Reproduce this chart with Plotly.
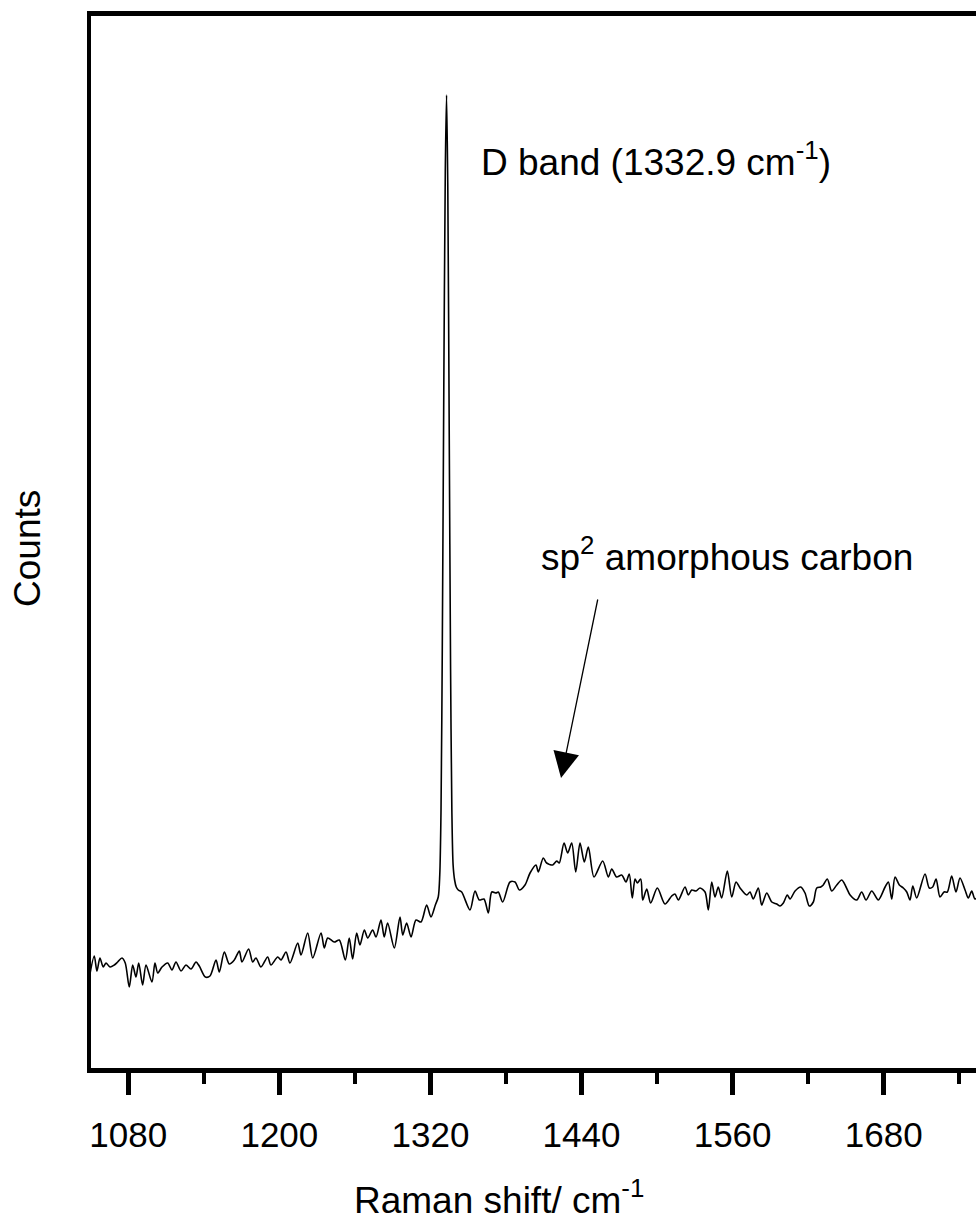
import plotly.graph_objects as go

raman_shift = [
    1049.0, 1053.0, 1055.1, 1057.5, 1060.1, 1062.3, 1065.5, 1068.9, 1071.6, 1075.0,
    1077.6, 1080.8, 1083.5, 1086.1, 1088.3, 1091.4, 1094.1, 1098.8, 1101.2, 1103.4,
    1106.8, 1111.3, 1114.7, 1117.9, 1121.9, 1125.8, 1129.8, 1133.8, 1136.4, 1141.2,
    1144.9, 1149.7, 1152.3, 1156.3, 1160.2, 1164.2, 1168.2, 1170.3, 1175.6, 1178.8,
    1181.4, 1185.4, 1190.7, 1193.3, 1198.7, 1201.3, 1205.3, 1208.4, 1214.6, 1217.2,
    1222.5, 1226.5, 1233.1, 1235.7, 1238.4, 1243.6, 1247.6, 1252.4, 1255.5, 1258.2,
    1261.4, 1264.0, 1267.5, 1270.2, 1274.1, 1276.8, 1280.7, 1283.3, 1286.0, 1291.3,
    1295.8, 1298.0, 1301.1, 1304.6, 1308.5, 1312.5, 1317.0, 1320.4, 1323.9, 1326.2,
    1327.4, 1328.4, 1329.4, 1330.6, 1331.8, 1332.8, 1333.8, 1334.9, 1336.0, 1337.0,
    1338.0, 1339.2, 1340.5, 1342.1, 1344.8, 1351.4, 1355.4, 1358.8, 1362.5, 1366.0,
    1368.7, 1372.1, 1373.9, 1377.4, 1383.2, 1387.2, 1390.6, 1395.1, 1399.1, 1403.8,
    1405.7, 1409.6, 1412.3, 1417.1, 1420.3, 1422.3, 1426.1, 1429.0, 1432.2, 1435.4,
    1438.8, 1442.2, 1445.4, 1449.9, 1456.8, 1461.3, 1464.0, 1467.9, 1471.9, 1475.3,
    1477.9, 1480.3, 1482.5, 1484.3, 1487.0, 1488.6, 1491.8, 1494.9, 1500.2, 1506.3,
    1511.6, 1514.2, 1516.9, 1522.2, 1524.8, 1527.5, 1530.9, 1534.1, 1538.1, 1540.7,
    1543.4, 1546.0, 1548.6, 1551.3, 1555.8, 1559.3, 1562.7, 1565.9, 1571.2, 1573.8,
    1576.4, 1580.4, 1583.1, 1587.1, 1591.1, 1595.0, 1597.7, 1600.3, 1603.4, 1605.6,
    1609.6, 1614.1, 1617.5, 1620.9, 1624.1, 1626.8, 1630.0, 1632.0, 1635.2, 1638.7,
    1642.7, 1646.7, 1650.1, 1653.3, 1658.6, 1662.5, 1666.0, 1670.5, 1675.7, 1681.1,
    1683.7, 1686.4, 1689.0, 1692.4, 1695.6, 1698.3, 1700.9, 1703.1, 1706.2, 1712.8,
    1716.2, 1718.9, 1721.6, 1724.7, 1727.9, 1730.5, 1734.0, 1737.4, 1740.6, 1744.6,
    1747.2, 1749.9, 1752.5, 1756.0,
]

counts = [
    92, 114, 99, 112, 103, 107, 103, 105, 108, 112,
    107, 83, 105, 93, 107, 85, 105, 88, 107, 97,
    103, 107, 100, 108, 99, 105, 101, 108, 104, 93,
    94, 110, 98, 118, 106, 110, 119, 108, 121, 108,
    112, 103, 113, 105, 113, 110, 118, 107, 127, 115,
    137, 112, 137, 122, 132, 128, 130, 110, 132, 111,
    137, 125, 140, 132, 140, 133, 150, 133, 147, 122,
    153, 135, 147, 133, 150, 148, 165, 153, 165, 173,
    195, 260, 420, 680, 900, 975, 880, 640, 400, 260,
    205, 190, 183, 180, 178, 160, 179, 170, 171, 157,
    178, 177, 178, 168, 188, 188, 180, 185, 197, 205,
    198, 212, 207, 205, 209, 207, 227, 217, 227, 198,
    227, 208, 223, 193, 209, 193, 201, 193, 195, 188,
    196, 172, 191, 187, 191, 170, 181, 167, 182, 166,
    174, 176, 170, 183, 175, 180, 179, 182, 178, 160,
    188, 173, 183, 172, 199, 173, 188, 182, 175, 178,
    171, 182, 165, 177, 168, 166, 164, 167, 175, 171,
    179, 183, 177, 164, 168, 182, 183, 185, 191, 179,
    185, 190, 183, 175, 170, 178, 170, 179, 170, 183,
    188, 171, 193, 185, 182, 178, 170, 184, 172, 196,
    182, 183, 191, 173, 178, 178, 194, 178, 192, 180,
    172, 179, 171, 176,
]

x_tick_values = [1080, 1200, 1320, 1440, 1560, 1680]
x_tick_labels = ["1080", "1200", "1320", "1440", "1560", "1680"]

FONT = "Arial, Liberation Sans, sans-serif"

fig = go.Figure()
fig.add_trace(go.Scatter(
    x=raman_shift, y=counts, mode="lines",
    line=dict(color="#000000", width=1.6, shape="spline", smoothing=0.8),
    showlegend=False, hoverinfo="skip",
))

fig.update_layout(
    width=976, height=1221,
    margin=dict(l=91, r=0, t=16, b=153, pad=0),
    paper_bgcolor="white", plot_bgcolor="white",
    font=dict(family=FONT, color="black"),
    showlegend=False,
)

fig.update_xaxes(
    range=[1050.4, 1753.3],
    tickmode="array", tickvals=x_tick_values, ticktext=x_tick_labels,
    ticks="outside", ticklen=22, tickwidth=4.5, tickcolor="black",
    tickfont=dict(family=FONT, size=35, color="black"),
    ticklabelstandoff=10,
    minor=dict(tickmode="linear", tick0=1140, dtick=120, ticks="outside",
               ticklen=11, tickwidth=4, tickcolor="black", showgrid=False),
    showline=True, linewidth=4.5, linecolor="black", mirror=True,
    showgrid=False, zeroline=False,
)

fig.update_yaxes(
    range=[2, 1054],
    showticklabels=False, ticks="",
    showline=True, linewidth=3.5, linecolor="black", mirror=False,
    showgrid=False, zeroline=False,
)

fig.add_annotation(
    text="Raman shift/ cm<sup>-1</sup>", xref="paper", yref="paper",
    x=0.461, y=-0.1235, xanchor="center", yanchor="middle", showarrow=False,
    font=dict(family=FONT, size=37, color="black"),
)
fig.add_annotation(
    text="Counts", xref="paper", yref="paper", textangle=-90,
    x=-0.0712, y=0.4943, xanchor="center", yanchor="middle", showarrow=False,
    font=dict(family=FONT, size=37, color="black"),
)
fig.add_annotation(
    text="D band (1332.9 cm<sup>-1</sup>)", xref="x", yref="y",
    x=1358.5, y=911, xanchor="left", yanchor="middle", showarrow=False,
    font=dict(family=FONT, size=37, color="black"),
)
fig.add_annotation(
    text="sp<sup>2</sup> amorphous carbon", xref="x", yref="y",
    x=1406.2, y=516, xanchor="left", yanchor="middle", showarrow=False,
    font=dict(family=FONT, size=37, color="black"),
)
fig.add_annotation(
    text="", xref="x", yref="y", axref="x", ayref="y",
    x=1423.7, y=292, ax=1453.1, ay=472,
    showarrow=True, arrowhead=2, arrowsize=4, arrowwidth=1.3, arrowcolor="black",
)

fig.write_html("out.html")
